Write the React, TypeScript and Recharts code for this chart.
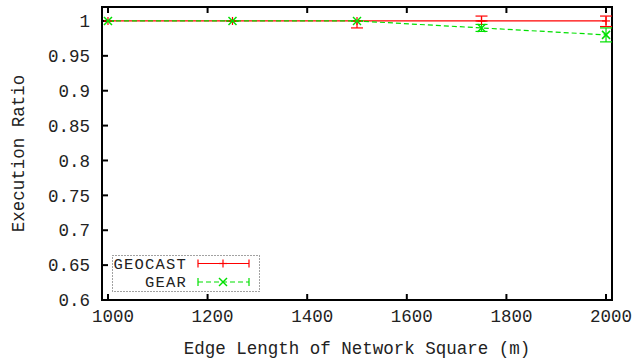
import React from 'react';
import { LineChart, Line, XAxis, YAxis, ErrorBar, Legend, ReferenceArea } from 'recharts';

// Edge length of the square deployment area (m)
const edgeLengths = [1000, 1250, 1500, 1750, 2000];
const geocastRatio = [1, 1, 1, 1, 1];
const geocastErr: [number, number][] = [[0, 0], [0, 0], [0.01, 0], [0, 0.007], [0.008, 0.007]];
const gearRatio = [1, 1, 1, 0.99, 0.98];
const gearErr: [number, number][] = [[0, 0], [0, 0], [0, 0], [0.005, 0.005], [0.01, 0.01]];

const xTicks = [1000, 1200, 1400, 1600, 1800, 2000];
const yTicks = [0.6, 0.65, 0.7, 0.75, 0.8, 0.85, 0.9, 0.95, 1];

const X_DOMAIN: [number, number] = [988, 2012];
const Y_DOMAIN: [number, number] = [0.6, 1.02];

const RED = '#ff0000';
const GREEN = '#00e000';
const FONT = '"Liberation Mono", "DejaVu Sans Mono", monospace';
const FS = 17.5;

const data = edgeLengths.map((len, i) => ({
  len,
  geocast: geocastRatio[i],
  geocastErr: geocastErr[i],
  gear: gearRatio[i],
  gearErr: gearErr[i],
}));

const PlusDot = (props: any) => {
  const { cx, cy } = props;
  if (cx == null || cy == null) return null;
  return (
    <g stroke={RED} strokeWidth={1.2}>
      <line x1={cx - 4} y1={cy} x2={cx + 4} y2={cy} />
      <line x1={cx} y1={cy - 4} x2={cx} y2={cy + 4} />
    </g>
  );
};

const CrossDot = (props: any) => {
  const { cx, cy } = props;
  if (cx == null || cy == null) return null;
  return (
    <g stroke={GREEN} strokeWidth={1.5}>
      <line x1={cx - 4} y1={cy - 4} x2={cx + 4} y2={cy + 4} />
      <line x1={cx - 4} y1={cy + 4} x2={cx + 4} y2={cy - 4} />
    </g>
  );
};

const NoLabel = () => <g />;

const tickStyle = { fontSize: FS, fill: '#222', fontFamily: FONT };
const axisStroke = { stroke: '#000', strokeWidth: 2 };

function KeyBox() {
  const rows = [
    { name: 'GEOCAST', color: RED, dash: undefined, marker: 'plus' },
    { name: 'GEAR', color: GREEN, dash: '5 3', marker: 'cross' },
  ];
  return (
    <svg width={148} height={37} style={{ display: 'block' }}>
      <rect x={0.5} y={0.5} width={147} height={36} fill="#fff" stroke="#444" strokeDasharray="1 2" />
      {rows.map((r, i) => {
        const y = 8.5 + i * 18.5;
        return (
          <g key={r.name}>
            <text
              x={75}
              y={y + 5}
              textAnchor="end"
              fontFamily={FONT}
              fontSize={15.5}
              letterSpacing={1.2}
              fill="#222"
            >
              {r.name}
            </text>
            <g stroke={r.color} strokeWidth={1.2}>
              <line x1={86} y1={y} x2={137} y2={y} strokeDasharray={r.dash} />
              <line x1={86} y1={y - 4} x2={86} y2={y + 4} />
              <line x1={137} y1={y - 4} x2={137} y2={y + 4} />
              {r.marker === 'plus' ? (
                <>
                  <line x1={107} y1={y} x2={115} y2={y} />
                  <line x1={111} y1={y - 4} x2={111} y2={y + 4} />
                </>
              ) : (
                <>
                  <line x1={107} y1={y - 4} x2={115} y2={y + 4} strokeWidth={1.5} />
                  <line x1={107} y1={y + 4} x2={115} y2={y - 4} strokeWidth={1.5} />
                </>
              )}
            </g>
          </g>
        );
      })}
    </svg>
  );
}

export default function App() {
  return (
    <div style={{ position: 'absolute', left: 0, top: 0, background: '#fff' }}>
      <LineChart width={636} height={362} data={data} margin={{ top: 6, right: 23, left: 0, bottom: 0 }}>
        <XAxis
          dataKey="len"
          type="number"
          domain={X_DOMAIN}
          ticks={xTicks}
          height={62}
          tickSize={-6}
          tickMargin={16}
          tick={{ ...tickStyle, dx: 5 }}
          axisLine={false}
          tickLine={axisStroke}
          label={{ value: 'Edge Length of Network Square (m)', position: 'insideBottom', offset: 8, style: tickStyle }}
        />
        <XAxis
          xAxisId="top"
          dataKey="len"
          type="number"
          orientation="top"
          domain={X_DOMAIN}
          ticks={xTicks}
          height={1}
          tickSize={-6}
          tick={NoLabel}
          axisLine={false}
          tickLine={axisStroke}
        />
        <YAxis
          type="number"
          domain={Y_DOMAIN}
          ticks={yTicks}
          width={102}
          tickSize={-6}
          tickMargin={18}
          tick={tickStyle}
          interval={0}
          axisLine={false}
          tickLine={axisStroke}
          label={{ value: 'Execution Ratio', angle: -90, position: 'insideLeft', offset: 18, style: { ...tickStyle, textAnchor: 'middle' } }}
        />
        <YAxis
          yAxisId="right"
          type="number"
          orientation="right"
          domain={Y_DOMAIN}
          ticks={yTicks}
          width={1}
          tickSize={-6}
          tick={NoLabel}
          interval={0}
          axisLine={false}
          tickLine={axisStroke}
        />
        {/* plot frame */}
        <ReferenceArea
          x1={X_DOMAIN[0]}
          x2={X_DOMAIN[1]}
          y1={Y_DOMAIN[0]}
          y2={Y_DOMAIN[1]}
          fill="none"
          fillOpacity={0}
          stroke="#000"
          strokeWidth={2}
        />
        <Legend
          layout="horizontal"
          verticalAlign="middle"
          align="center"
          content={() => <KeyBox />}
          wrapperStyle={{ left: 112, top: 255, width: 148, height: 37 }}
        />
        <Line
          name="GEOCAST"
          dataKey="geocast"
          stroke={RED}
          strokeWidth={1.2}
          dot={<PlusDot />}
          activeDot={false}
          isAnimationActive={false}
        >
          <ErrorBar dataKey="geocastErr" width={6} stroke={RED} strokeWidth={1.2} />
        </Line>
        <Line
          name="GEAR"
          dataKey="gear"
          stroke={GREEN}
          strokeWidth={1.2}
          strokeDasharray="5 3"
          dot={<CrossDot />}
          activeDot={false}
          isAnimationActive={false}
        >
          <ErrorBar dataKey="gearErr" width={6} stroke={GREEN} strokeWidth={1.2} />
        </Line>
      </LineChart>
    </div>
  );
}
